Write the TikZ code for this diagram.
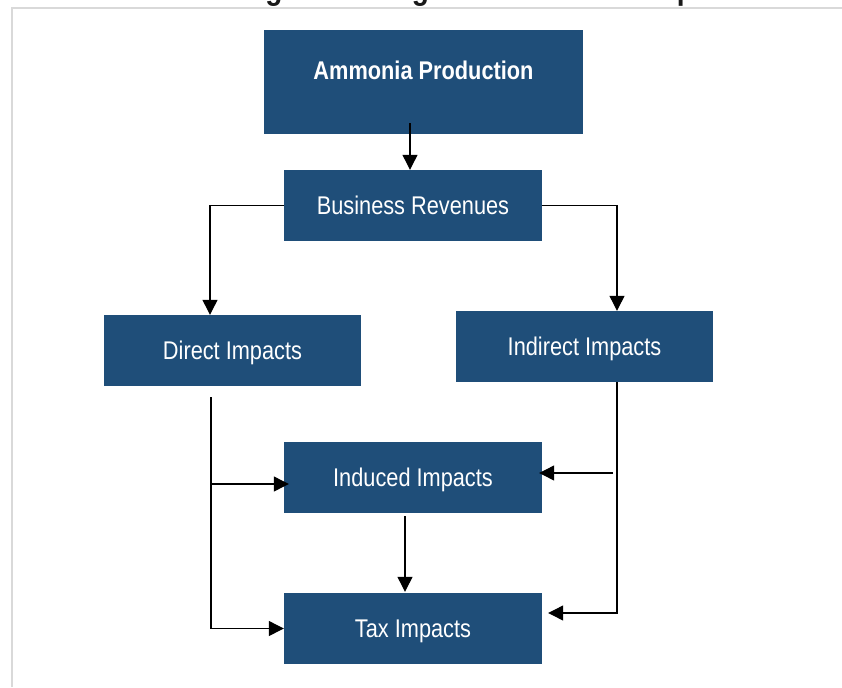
\documentclass[tikz,border=0pt]{standalone}
\usepackage{fontspec}
\setmainfont{Liberation Sans}[FakeStretch=0.85]
\usepackage{xcolor}
\usepackage{tikz}
\usetikzlibrary{arrows.meta,calc}
\definecolor{boxblue}{HTML}{1F4E79}
\definecolor{framegray}{HTML}{D9D9D9}

\begin{document}
\begin{tikzpicture}[x=1pt,y=-1pt,
  impbox/.style={rectangle,fill=boxblue,text=white,inner sep=0pt,
    minimum width=258pt,minimum height=71pt,text height=18pt,text depth=0pt,
    font=\fontsize{25.6}{30}\selectfont},
  arr/.style={draw=black,line width=1.2pt,-{Triangle[length=15pt,width=15pt]}}]
  \useasboundingbox[fill=white] (0,0) rectangle (842,687);
  % frame and clipped title
  \draw[framegray,line width=2pt] (12,687)--(12,8)--(842,8);
  \node[anchor=base,font=\fontsize{33}{38}\selectfont\bfseries,text=black!90,inner sep=0pt] (title) at (412,-0.5) {Schematic Diagram of Regional Economic Impacts};
  % boxes
  \node[impbox,minimum width=319pt,minimum height=104pt] (prod) at (423.5,82) {\raisebox{11pt}[0pt][0pt]{\bfseries Ammonia Production}};
  \node[impbox] (biz) at (413,205.5) {Business Revenues};
  \node[impbox,minimum width=257pt] (direct) at (232.5,350.5) {Direct Impacts};
  \node[impbox,minimum width=257pt] (indirect) at (584.5,346.5) {Indirect Impacts};
  \node[impbox] (induced) at (413,477.5) {Induced Impacts};
  \node[impbox] (tax) at (413,628.5) {Tax Impacts};
  % connectors
  \coordinate (p1) at ($(prod.south)+(-13.5,-11)$);
  \draw[arr] (p1)--(p1 |- biz.north);
  \draw[arr] (biz.west) -| ($(direct.north)+(-22.5,0)$);
  \draw[arr] (biz.east) -| ($(indirect.north)+(32.5,0)$);
  \coordinate (dl) at ($(direct.south)+(-21.5,11)$);
  \draw[arr] (dl) |- (tax.west);
  \draw[arr] ($(dl |- induced.west)+(0,6.5)$)--($(induced.west)+(5,6.5)$);
  \draw[arr] ($(indirect.south)+(32.5,0)$) |- ($(tax.east)+(6,-15.5)$);
  \draw[arr] ($(induced.east)+(71,-4.5)$)--($(induced.east)+(-3,-4.5)$);
  \draw[arr] ($(induced.south)+(-8,3)$)--($(tax.north)+(-8,-1)$);
\end{tikzpicture}
\end{document}
